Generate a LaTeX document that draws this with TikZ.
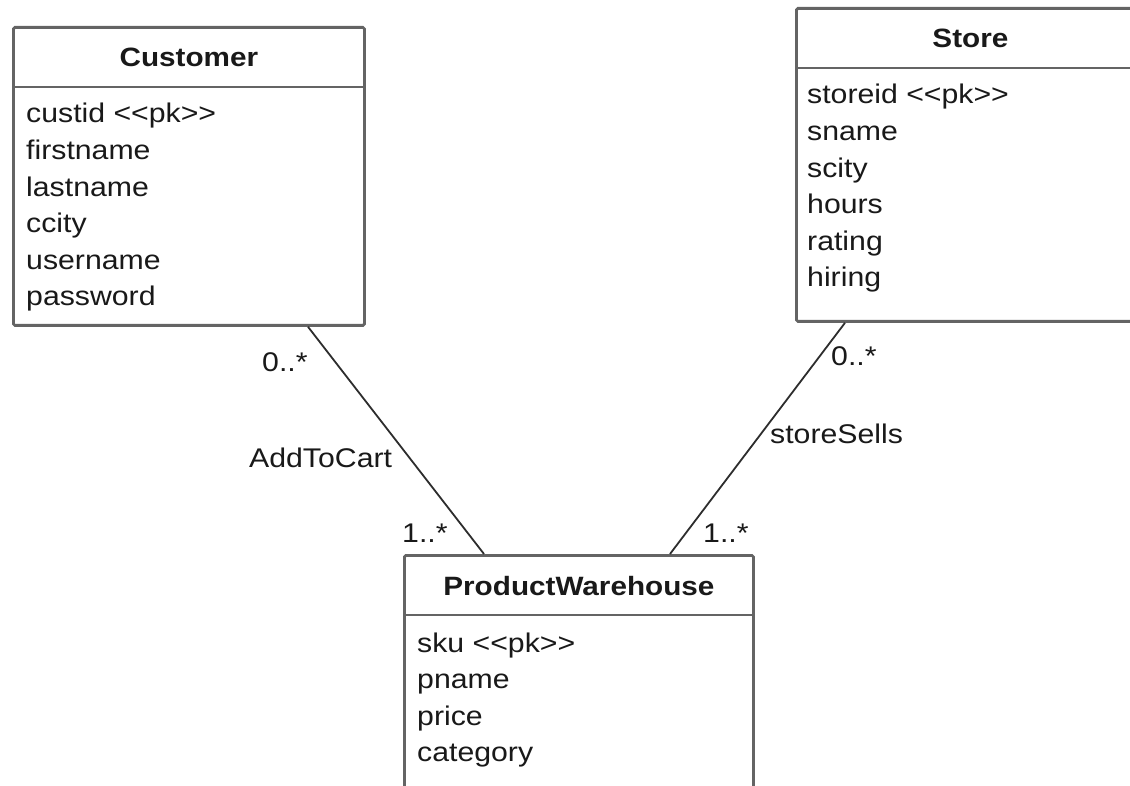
\documentclass[tikz,border=0pt]{standalone}
\usepackage{fontspec}
\setmainfont[FakeStretch=1.12]{Liberation Sans}
\usetikzlibrary{calc}
\definecolor{boxgray}{RGB}{100,100,100}
\definecolor{linegray}{RGB}{45,45,45}
\definecolor{textdark}{RGB}{25,25,25}

\tikzset{
    classbox/.style={draw=boxgray, line width=2.8pt, fill=white, rounded corners=1.5pt,
        inner sep=0pt, anchor=north west},
    classtitle/.style={font=\fontsize{26.5}{30}\selectfont\bfseries, text=textdark,
        anchor=base, inner sep=0pt},
    attr/.style={font=\fontsize{27}{30}\selectfont, text=textdark, anchor=base west, inner sep=0pt},
    assoc/.style={draw=linegray, line width=1.8pt},
    mult/.style={font=\fontsize{27}{30}\selectfont, text=textdark, anchor=base west, inner sep=0pt},
}

\begin{document}
\begin{tikzpicture}[x=1pt, y=-1pt]
    \useasboundingbox (0,0) rectangle (1130,786);
    \clip (0,0) rectangle (1130,786);

    % Class boxes
    \node[classbox, minimum width=351, minimum height=298] (customer) at (12,26) {};
    \node[classbox, minimum width=348, minimum height=313] (store) at (795,7) {};
    \node[classbox, minimum width=349, minimum height=260] (warehouse) at (403,554) {};

    % Header separators
    \foreach \c in {customer, store, warehouse}
        \draw[boxgray, line width=2.8pt] ([yshift=-61pt]\c.north west) -- ([yshift=-61pt]\c.north east);

    % Class names
    \node[classtitle] (customer-title) at ($(customer.north)+(0,41)$) {Customer};
    \node[classtitle] (store-title) at ($(store.north)+(0,41)$) {Store};
    \node[classtitle] (warehouse-title) at ($(warehouse.north)+(0,41)$) {ProductWarehouse};

    % Attributes
    \foreach \a [count=\i from 0] in {custid <{}<pk>{}>, firstname, lastname, ccity, username, password}
        \node[attr] (customer-\i) at ($(customer.north west)+(14,97+36.6*\i)$) {\a};
    \foreach \a [count=\i from 0] in {storeid <{}<pk>{}>, sname, scity, hours, rating, hiring}
        \node[attr] (store-\i) at ($(store.north west)+(12,97+36.6*\i)$) {\a};
    \foreach \a [count=\i from 0] in {sku <{}<pk>{}>, pname, price, category}
        \node[attr] (warehouse-\i) at ($(warehouse.north west)+(14,98+36.6*\i)$) {\a};

    % Associations
    \draw[assoc] ([xshift=296pt]customer.south west) -- ([xshift=81pt]warehouse.north west);
    \draw[assoc] ([xshift=50pt]store.south west) -- ([xshift=267pt]warehouse.north west);

    % Multiplicities and association names
    \node[mult] (cart-from) at (262,371) {0..*};
    \node[mult] (cart-name) at (249,467) {AddToCart};
    \node[mult] (cart-to) at (402,542) {1..*};
    \node[mult] (sells-from) at (831,365) {0..*};
    \node[mult] (sells-name) at (770,443) {storeSells};
    \node[mult] (sells-to) at (703,542) {1..*};
\end{tikzpicture}
\end{document}
